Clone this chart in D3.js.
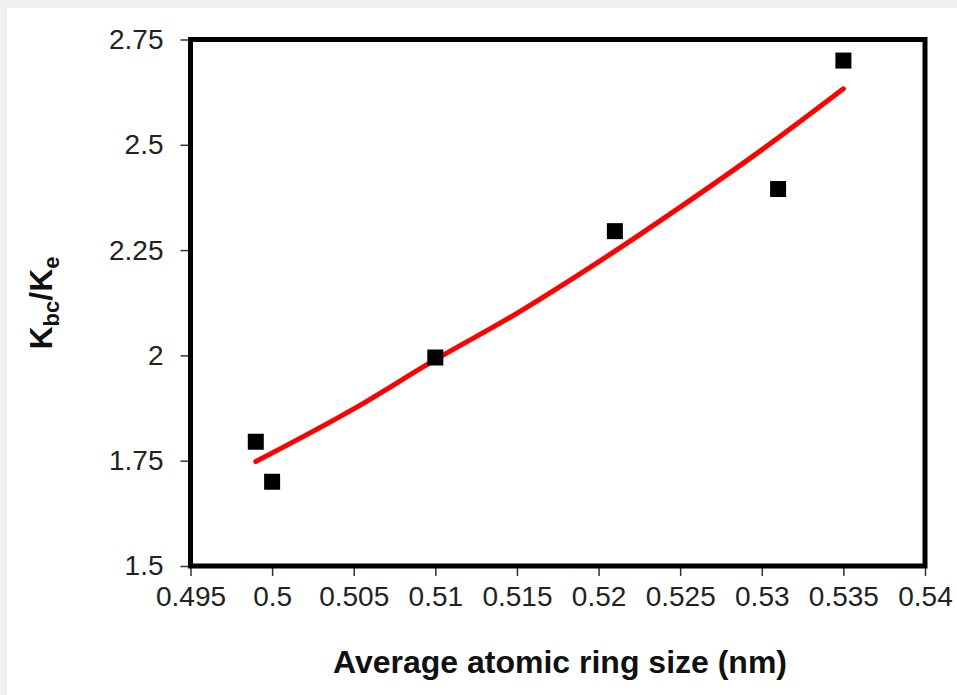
<!DOCTYPE html>
<html>
<head>
<meta charset="utf-8">
<script src="https://cdn.jsdelivr.net/npm/d3@7"></script>
<style>
  html, body { margin: 0; padding: 0; background: #eff0f2; }
  svg { display: block; }
</style>
</head>
<body>
<svg id="chart" width="957" height="695"></svg>
<script>
// ---- data ----
const xTicks = [0.495, 0.5, 0.505, 0.51, 0.515, 0.52, 0.525, 0.53, 0.535, 0.54];
const yTicks = [1.5, 1.75, 2, 2.25, 2.5, 2.75];
const xTickLabels = ["0.495", "0.5", "0.505", "0.51", "0.515", "0.52", "0.525", "0.53", "0.535", "0.54"];
const yTickLabels = ["1.5", "1.75", "2", "2.25", "2.5", "2.75"];

const ringSize = [0.499, 0.5, 0.51, 0.521, 0.531, 0.535];
const ratio    = [1.795, 1.70, 1.995, 2.295, 2.395, 2.70];

const fitX = [0.499, 0.505, 0.51, 0.515, 0.52, 0.525, 0.53, 0.535];
const fitY = [1.748, 1.873, 1.99, 2.10, 2.222, 2.352, 2.488, 2.633];

// ---- layout ----
const svg = d3.select("#chart");
const W = 957, H = 695;
const mLeft = 190.5, mRight = 925, mTop = 39.5, mBottom = 566;

svg.append("rect").attr("x", 7).attr("y", 8).attr("width", W - 7).attr("height", H - 8).attr("fill", "#ffffff");

const x = d3.scaleLinear().domain([0.495, 0.54]).range([mLeft, mRight]);
const y = d3.scaleLinear().domain([1.5, 2.75]).range([mBottom, mTop]);

const font = "'Liberation Sans', Arial, sans-serif";

// x axis ticks
const xAxis = d3.axisBottom(x).tickValues(xTicks)
  .tickFormat((d, i) => xTickLabels[i]).tickSizeInner(10).tickSizeOuter(0).tickPadding(10);
const gx = svg.append("g").attr("transform", `translate(0,${mBottom})`).call(xAxis);
gx.select(".domain").remove();
gx.selectAll(".tick line").attr("stroke", "#333").attr("stroke-width", 1.5);
gx.selectAll(".tick text").attr("font-family", font).attr("font-size", 28).attr("fill", "#222")
  .attr("dy", "0.71em");

// y axis ticks
const yAxis = d3.axisLeft(y).tickValues(yTicks)
  .tickFormat((d, i) => yTickLabels[i]).tickSizeInner(10).tickSizeOuter(0).tickPadding(17);
const gy = svg.append("g").attr("transform", `translate(${mLeft},0)`).call(yAxis);
gy.select(".domain").remove();
gy.selectAll(".tick line").attr("stroke", "#333").attr("stroke-width", 1.5);
gy.selectAll(".tick text").attr("font-family", font).attr("font-size", 28).attr("fill", "#222");

// fit line
const line = d3.line().x((d, i) => x(fitX[i])).y(d => y(d)).curve(d3.curveMonotoneX);
svg.append("path").datum(fitY).attr("d", line)
  .attr("fill", "none").attr("stroke", "#ff0000").attr("stroke-width", 5)
  .attr("stroke-linecap", "round").attr("stroke-linejoin", "round");

// points
const s = 16;
svg.selectAll("rect.pt").data(ringSize).enter().append("rect").attr("class", "pt")
  .attr("x", d => x(d) - s / 2).attr("y", (d, i) => y(ratio[i]) - s / 2)
  .attr("width", s).attr("height", s).attr("fill", "#000");

// frame
svg.append("rect").attr("x", mLeft).attr("y", mTop).attr("width", mRight - mLeft).attr("height", mBottom - mTop)
  .attr("fill", "none").attr("stroke", "#000").attr("stroke-width", 5);

// axis titles
svg.append("text").attr("x", 560).attr("y", 673).attr("text-anchor", "middle")
  .attr("font-family", font).attr("font-weight", "bold").attr("font-size", 32).attr("fill", "#111")
  .text("Average atomic ring size (nm)");

const yt = svg.append("text").attr("transform", "translate(52,303) rotate(-90)").attr("text-anchor", "middle")
  .attr("font-family", font).attr("font-weight", "bold").attr("font-size", 32).attr("fill", "#111");
yt.append("tspan").text("K");
yt.append("tspan").attr("font-size", 22).attr("dy", 7).text("bc");
yt.append("tspan").attr("dy", -7).text("/K");
yt.append("tspan").attr("font-size", 22).attr("dy", 7).text("e");
</script>
</body>
</html>
